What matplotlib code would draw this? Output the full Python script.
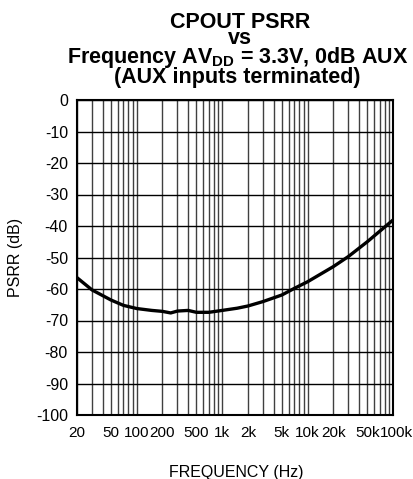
import numpy as np
import matplotlib
matplotlib.use('Agg')
import matplotlib.pyplot as plt

# 曲线数据
freq_hz = [20, 30, 50, 70, 100, 150, 200, 250, 300, 400, 500, 700, 1000,
           1500, 2000, 3000, 5000, 7000, 10000, 20000, 30000, 50000, 100000]
psrr_db = [-56.4, -60.3, -63.5, -65.2, -66.2, -66.8, -67.1, -67.6, -67.0, -66.8,
           -67.4, -67.4, -66.8, -66.1, -65.4, -64.0, -61.9, -59.8, -57.7, -52.9,
           -49.7, -45.0, -38.1]

xtick_vals = [20, 50, 100, 200, 500, 1000, 2000, 5000, 10000, 20000, 50000, 100000]
xtick_labels = ['20', '50', '100', '200', '500', '1k', '2k', '5k', '10k', '20k', '50k', '100k']
ytick_vals = list(range(0, -101, -10))

plt.rcParams['font.family'] = ['Liberation Sans', 'DejaVu Sans']
plt.rcParams['axes.unicode_minus'] = False
plt.rcParams['mathtext.fontset'] = 'custom'
plt.rcParams['mathtext.bf'] = 'Liberation Sans:bold'
plt.rcParams['mathtext.rm'] = 'Liberation Sans'

fig = plt.figure(figsize=(4.14, 4.79), dpi=100)
ax = fig.add_axes([77 / 414, 1 - 415 / 479, 316 / 414, 315 / 479])

ax.set_xscale('log')
ax.set_xlim(20, 100000)
ax.set_ylim(-100, 0)

# 网格
ax.grid(True, which='major', axis='y', color='black', linewidth=1.0)
ax.grid(True, which='both', axis='x', color='#404040', linewidth=1.0)
ax.set_axisbelow(True)

ax.plot(freq_hz, psrr_db, color='black', linewidth=2.4, solid_capstyle='butt')

ax.set_xticks(xtick_vals)
ax.set_xticklabels(xtick_labels)
ax.xaxis.set_minor_formatter(matplotlib.ticker.NullFormatter())
ax.set_yticks(ytick_vals)
ax.tick_params(axis='y', which='both', length=0, labelsize=11.5, pad=6.5)
ax.tick_params(axis='x', which='both', length=0, labelsize=11, pad=8)

# 最右边的 100k 稍微往右挪，避免和 50k 挤在一起
last = ax.get_xticklabels()[-1]
last.set_transform(last.get_transform() + matplotlib.transforms.ScaledTranslation(3 / 100, 0, fig.dpi_scale_trans))

for s in ax.spines.values():
    s.set_linewidth(1.5)
    s.set_color('black')

ax.set_ylabel('PSRR (dB)', fontsize=11.5, labelpad=9)
fig.text(236 / 414, 1 - 473 / 479, 'FREQUENCY (Hz)', ha='center', va='center', fontsize=11.5)

tkw = dict(ha='center', va='center', fontsize=15.5, fontweight='bold')
fig.text(240 / 414, 1 - 22 / 479, 'CPOUT PSRR', **tkw)
fig.text(240 / 414, 1 - 38 / 479, 'vs', **tkw)
fig.text(238 / 414, 1 - 57 / 479, 'Frequency AV$_{\\mathbf{DD}}$ = 3.3V, 0dB AUX', **tkw)
fig.text(237 / 414, 1 - 77 / 479, '(AUX inputs terminated)', **tkw)

fig.savefig('out.png', dpi=100)
